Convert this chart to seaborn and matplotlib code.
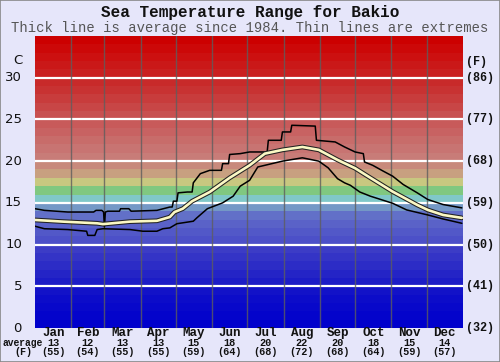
import numpy as np
import matplotlib
matplotlib.use("Agg")
import matplotlib.pyplot as plt
import matplotlib.transforms as mtransforms
from matplotlib.patches import Rectangle
import seaborn as sns

# ---------------------------------------------------------------
# Data, day of year -> deg C
# ---------------------------------------------------------------
months = ["Jan", "Feb", "Mar", "Apr", "May", "Jun",
          "Jul", "Aug", "Sep", "Oct", "Nov", "Dec"]
month_days = [31, 28, 31, 30, 31, 30, 31, 31, 30, 31, 30, 31]
avg_c = [13, 12, 13, 13, 15, 18, 20, 22, 20, 18, 15, 14]
avg_f = [55, 54, 55, 55, 59, 64, 68, 72, 68, 64, 59, 57]

avg_day = [0, 24, 53, 58, 81, 104, 115, 119, 126, 134, 149, 166,
           183, 196, 211, 228, 242, 258, 273, 286, 305, 326, 335, 348, 364]
avg_temp = [12.95, 12.75, 12.55, 12.45, 12.75, 12.85, 13.3, 13.9, 14.3, 15.2, 16.3, 18.0,
            19.5, 20.9, 21.35, 21.7, 21.35, 20.15, 19.15, 18.0, 16.35, 14.75, 14.15, 13.55, 13.2]

max_day = [0, 8, 28, 50, 52, 57, 58.5, 59.2, 60, 62, 72, 73, 80, 82, 104, 115, 117, 118,
           121, 122, 130, 134, 135, 141, 149, 159, 160, 165, 166, 175, 183, 198, 199, 210,
           211, 218, 219, 239, 240, 256, 264, 273, 280, 281, 288, 297, 305, 314, 326, 335,
           348, 364]
max_temp = [14.3, 14.1, 13.9, 13.9, 14.1, 14.1, 13.9, 12.1, 13.9, 14.0, 14.0, 14.3, 14.3, 14.0,
            14.1, 14.5, 14.5, 15.2, 15.2, 16.2, 16.3, 16.3, 17.4, 18.5, 18.9, 18.9, 19.7, 19.7,
            20.8, 20.9, 21.1, 21.1, 22.5, 22.5, 23.5, 23.5, 24.3, 24.2, 22.5, 22.3, 21.7, 21.1,
            20.9, 19.9, 19.5, 18.8, 18.2, 17.2, 16.2, 15.4, 14.8, 14.4]

min_day = [0, 8, 28, 44, 45, 51, 53, 58, 81, 92, 104, 109, 115, 121, 135, 138, 147,
           160, 169, 175, 183, 190, 199, 211, 228, 242, 250, 258, 264, 269, 277, 286,
           305, 317, 335, 348, 364]
min_temp = [12.2, 11.9, 11.8, 11.6, 11.1, 11.1, 11.8, 11.9, 11.8, 11.6, 11.6, 11.9, 12.0,
            12.5, 12.8, 13.2, 14.3, 15.0, 15.8, 17.0, 17.7, 19.3, 19.6, 20.0, 20.4, 20.0,
            19.2, 17.9, 17.4, 17.1, 16.3, 15.8, 14.95, 14.15, 13.55, 13.07, 12.55]

# one colour per degree band, 0..35 C
band_colors = ["#0000cc", "#0404cb", "#0808ca", "#0c0cc9", "#1212c8",
               "#1c1cc6", "#2424c6", "#2c2cc6", "#3434c6", "#3c3cc6",
               "#4c50c8", "#5258c8", "#5a62c8", "#6270c8", "#7498c6",
               "#80c8c8", "#80c880", "#c8c880", "#c8a080", "#c88a7c",
               "#c87c78", "#c87472", "#c86c6a", "#c86262", "#c85a5a",
               "#c85050", "#c84646", "#c83c3c", "#c83232", "#c82a2a",
               "#ca2020", "#ca1818", "#cc1010", "#cc0808", "#cc0000"]

BG = "#e6e6fa"
MONO = "Liberation Mono"

sns.set_theme(style="white")
plt.rcParams["font.family"] = ["DejaVu Sans"]

fig = plt.figure(figsize=(5.0, 3.62), dpi=100, facecolor=BG)
ax = fig.add_axes([35 / 500, 1 - 328 / 362, 428 / 500, 292 / 362])
ax.set_xlim(0, 365)
ax.set_ylim(0, 35)

for t, col in enumerate(band_colors):
    ax.axhspan(t, t + 1, color=col, lw=0, zorder=0)

for t in range(5, 35, 5):
    ax.axhline(t, color="white", lw=1.6, zorder=1)

edges = np.cumsum([0] + month_days)
for d in edges[1:-1]:
    ax.axvline(d, color="#5e5e5e", lw=1.0, zorder=1, alpha=0.8)

sns.lineplot(x=max_day, y=max_temp, ax=ax, color="black", lw=1.1, zorder=3, sort=False)
sns.lineplot(x=min_day, y=min_temp, ax=ax, color="black", lw=1.1, zorder=3, sort=False)
sns.lineplot(x=avg_day, y=avg_temp, ax=ax, color="#222222", lw=3.4, zorder=4, sort=False)
sns.lineplot(x=avg_day, y=avg_temp, ax=ax, color="#fbf8c4", lw=1.9, zorder=5, sort=False)

ax.set_xticks([])
ax.set_yticks([])
ax.set_xlabel("")
ax.set_ylabel("")
for s in ax.spines.values():
    s.set_visible(False)

# left and right axis labels
for t in range(0, 35, 5):
    y = ax.transData.transform((0, t))[1]
    yf = fig.transFigure.inverted().transform((0, y))[1]
    fig.text(22 / 500, yf, str(t), ha="right", va="center", fontsize=9.5, color="#111111")
    fig.text(466 / 500, yf, f"({round(t * 9 / 5 + 32)})", ha="left", va="center",
             fontsize=8.5, color="#111111", family=MONO, fontweight="bold")
fig.text(22 / 500, 1 - 61 / 362, "C", ha="right", va="center", fontsize=9.5, color="#111111")
fig.text(466 / 500, 1 - 62 / 362, "(F)", ha="left", va="center", fontsize=8.5,
         color="#111111", family=MONO, fontweight="bold")

# month labels and averages
trans = mtransforms.blended_transform_factory(ax.transData, fig.transFigure)
mids = (edges[:-1] + edges[1:]) / 2
for m, c, f, x in zip(months, avg_c, avg_f, mids):
    ax.text(x, 1 - 333 / 362, m, transform=trans, ha="center", va="center",
            fontsize=9, family=MONO, fontweight="bold", color="#111111")
    ax.text(x, 1 - 343 / 362, str(c), transform=trans, ha="center", va="center",
            fontsize=7.4, family=MONO, fontweight="bold", color="#111111")
    ax.text(x, 1 - 352 / 362, f"({f})", transform=trans, ha="center", va="center",
            fontsize=7.4, family=MONO, fontweight="bold", color="#111111")
fig.text(23 / 500, 1 - 343 / 362, "average", ha="center", va="center", fontsize=6.9,
         family=MONO, fontweight="bold", color="#111111")
fig.text(23 / 500, 1 - 352 / 362, "(F)", ha="center", va="center", fontsize=7.2,
         family=MONO, fontweight="bold", color="#111111")

# titles
fig.text(0.5, 1 - 12 / 362, "Sea Temperature Range for Bakio", ha="center", va="center",
         fontsize=11.5, family=MONO, fontweight="bold", color="#111111")
fig.text(0.5, 1 - 28 / 362, "Thick line is average since 1984. Thin lines are extremes",
         ha="center", va="center", fontsize=10, family=MONO, color="#555555")

fig.patches.append(Rectangle((0, 0), 1, 1, transform=fig.transFigure, fill=False,
                             edgecolor="#888888", lw=1.2))

fig.savefig("out.png", dpi=100, facecolor=BG)
